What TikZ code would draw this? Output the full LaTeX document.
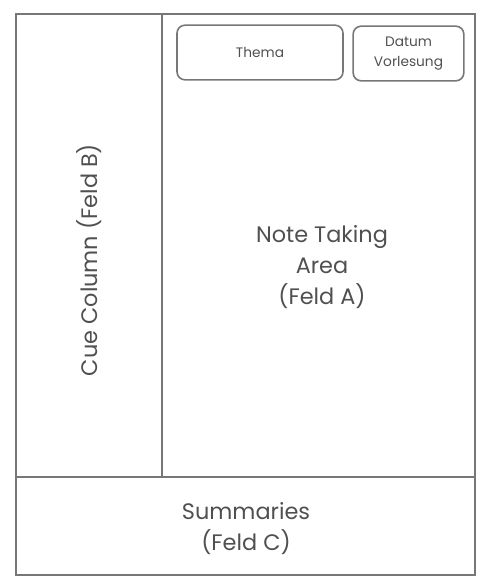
\documentclass[tikz,border=0pt]{standalone}
\usepackage{fontspec}
\setmainfont{Poppins}
\definecolor{lineG}{HTML}{777777}
\definecolor{textG}{HTML}{505050}

\begin{document}
\begin{tikzpicture}[x=0.75pt,y=-0.75pt,
  field/.style={draw=lineG,line width=1.4pt},
  lbl/.style={text=textG,align=center,font=\fontsize{16.8}{23.2}\selectfont},
  tagbox/.style={draw=lineG,line width=1.2pt,rounded corners=6pt,text=textG,
    align=center,font=\fontsize{10.3}{15}\selectfont,minimum height=41pt,inner sep=0pt}]
  \useasboundingbox (0,0) rectangle (488,581);
  % outer frame and dividers
  \draw[field] (16,14) rectangle (475,575);
  \coordinate (divtop) at (162,14);
  \coordinate (divbot) at (162,477);
  \coordinate (sumL) at (16,477);
  \coordinate (sumR) at (475,477);
  \draw[field] (divtop) -- (divbot);
  \draw[field] (sumL) -- (sumR);

  % header boxes
  \node[tagbox,minimum width=124.5pt] (thema) at (260,52.5) {Thema};
  \node[tagbox,minimum width=83pt] (datum) at (408.5,53.5) {Datum\\Vorlesung};

  % field labels
  \node[lbl,rotate=90] (cue) at (89,260) {Cue Column (Feld B)};
  \node[lbl] (notes) at (322,267) {Note Taking\\Area\\(Feld A)};
  \node[lbl] (summ) at (246,529) {Summaries\\(Feld C)};
\end{tikzpicture}
\end{document}
